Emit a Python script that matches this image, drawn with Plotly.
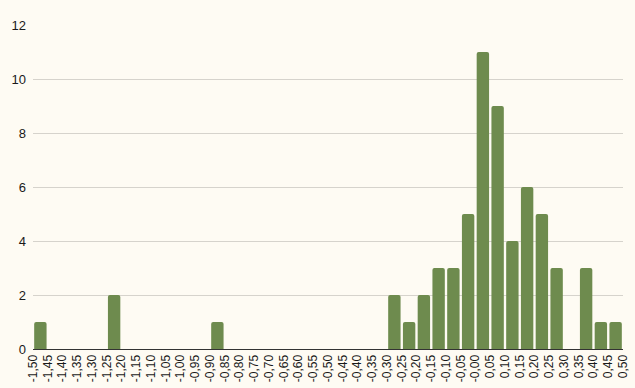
import plotly.graph_objects as go

# Bin edges (tick labels as shown) and histogram counts per bin
edge_values = [round(-1.50 + 0.05 * i, 2) for i in range(41)]
edge_labels = ["-1,50", "-1,45", "-1,40", "-1,35", "-1,30", "-1,25", "-1,20", "-1,15",
               "-1,10", "-1,05", "-1,00", "-0,95", "-0,90", "-0,85", "-0,80", "-0,75",
               "-0,70", "-0,65", "-0,60", "-0,55", "-0,50", "-0,45", "-0,40", "-0,35",
               "-0,30", "-0,25", "-0,20", "-0,15", "-0,10", "-0,05", "-0,00", "0,05",
               "0,10", "0,15", "0,20", "0,25", "0,30", "0,35", "0,40", "0,45", "0,50"]
counts = [1, 0, 0, 0, 0, 2, 0, 0, 0, 0,
          0, 0, 1, 0, 0, 0, 0, 0, 0, 0,
          0, 0, 0, 0, 2, 1, 2, 3, 3, 5,
          11, 9, 4, 6, 5, 3, 0, 3, 1, 1]
y_ticks = [0, 2, 4, 6, 8, 10, 12]

bin_centers = [(edge_values[i] + edge_values[i + 1]) / 2 for i in range(len(counts))]

BG = "#FEFBF3"
BAR = "#6E8B4E"

fig = go.Figure(go.Bar(
    x=bin_centers,
    y=counts,
    marker=dict(color=BAR, line=dict(width=0), cornerradius=2),
    hoverinfo="x+y",
))

fig.update_layout(
    width=635, height=388,
    margin=dict(l=33, r=12, t=25, b=39),
    paper_bgcolor=BG, plot_bgcolor=BG,
    bargap=0.16,
    showlegend=False,
    font=dict(family="Liberation Sans, Arial, sans-serif", size=12, color="#1a1a1a"),
)
fig.update_xaxes(
    range=[edge_values[0], edge_values[-1]],
    tickmode="array", tickvals=edge_values, ticktext=edge_labels,
    tickangle=-90, tickfont=dict(size=12),
    showgrid=False, zeroline=False,
    showline=True, linecolor="#333333", linewidth=1,
    ticks="", automargin=False,
)
fig.update_yaxes(
    range=[0, 12], tickmode="array", tickvals=y_ticks,
    tickfont=dict(size=13),
    showgrid=True, gridcolor="#D6D3CC", gridwidth=1,
    zeroline=False, showline=False, ticks="",
    ticklabelstandoff=6, automargin=False,
)

page_css = ("document.documentElement.style.margin='0';"
            "document.documentElement.style.overflow='hidden';"
            "document.body.style.margin='0';"
            "document.body.style.overflow='hidden';"
            "document.body.style.background='" + BG + "';")

fig.write_html("out.html", post_script=page_css, config={"displayModeBar": False})
